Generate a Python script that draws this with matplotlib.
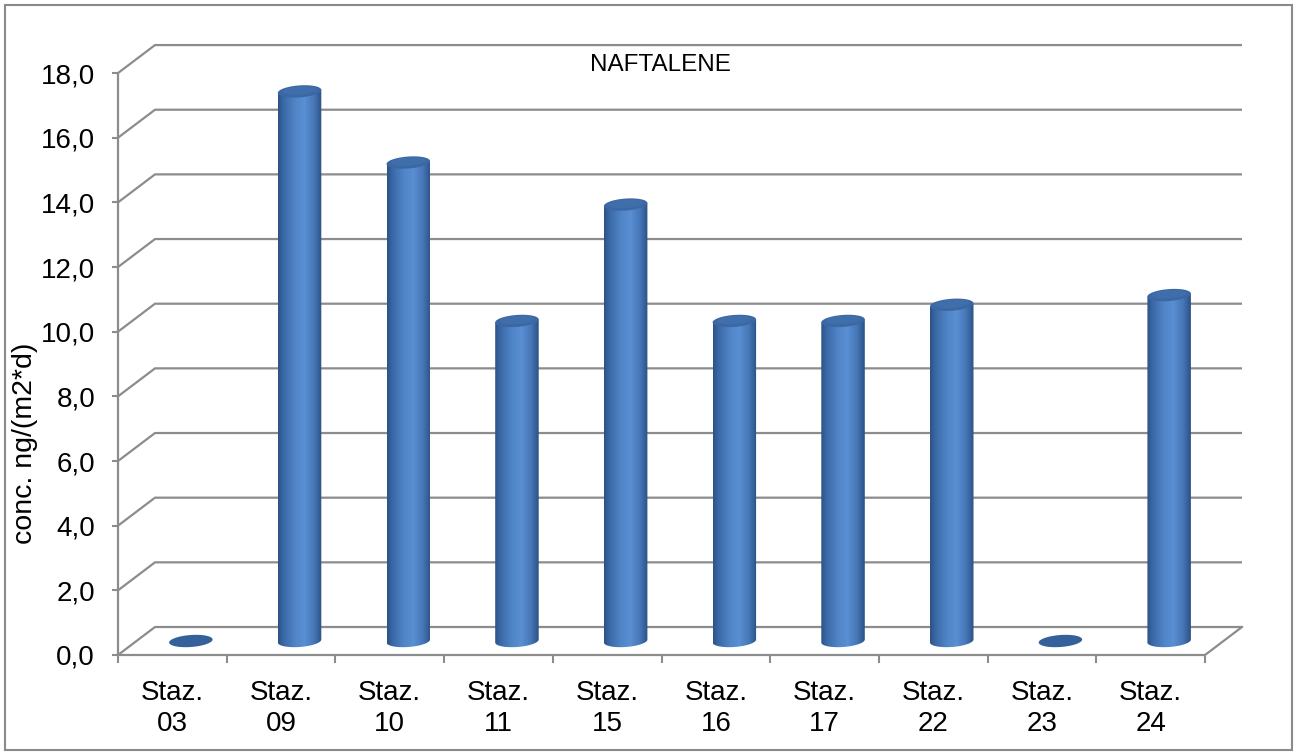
import numpy as np
import matplotlib
matplotlib.use("Agg")
import matplotlib.pyplot as plt
from matplotlib.path import Path
from matplotlib.patches import PathPatch, Rectangle
from matplotlib.colors import LinearSegmentedColormap

# ---- data -------------------------------------------------------------
stations = ["Staz.\n03", "Staz.\n09", "Staz.\n10", "Staz.\n11", "Staz.\n15",
            "Staz.\n16", "Staz.\n17", "Staz.\n22", "Staz.\n23", "Staz.\n24"]
values = [0.0, 17.0, 14.8, 9.9, 13.5, 9.9, 9.9, 10.4, 0.0, 10.7]
y_ticks = [0, 2, 4, 6, 8, 10, 12, 14, 16, 18]
y_tick_labels = ["0,0", "2,0", "4,0", "6,0", "8,0", "10,0", "12,0", "14,0", "16,0", "18,0"]
title = "NAFTALENE"
y_label = "conc. ng/(m2*d)"

plt.rcParams['font.family'] = ['Liberation Sans', 'DejaVu Sans']

W, H = 1295, 752
PX_X = 108.7          # pixels per category
PX_Y = 32.33          # pixels per value unit
DEPTH_X = 37 / PX_X   # depth of the 3-D box, in data units
DEPTH_Y = 28 / PX_Y
GRID = "#8c8c8c"

fig = plt.figure(figsize=(W / 100, H / 100), dpi=100)
fig.patch.set_facecolor("white")
ax = fig.add_axes([118 / W, 97 / H, 1132 / W, 615 / H])
ax.set_facecolor("none")
ax.set_autoscale_on(False)
n = len(stations)
ax.set_xlim(-0.5, -0.5 + 1132 / PX_X)
ax.set_ylim(0, 615 / PX_Y)

# back wall, side wall and floor
x0, x1 = -0.5, n - 0.5
for v in y_ticks:
    ax.plot([x0, x0 + DEPTH_X, x1 + DEPTH_X], [v, v + DEPTH_Y, v + DEPTH_Y],
            color=GRID, lw=1.6, zorder=1, solid_capstyle="butt")
ax.plot([x1, x1 + DEPTH_X], [0, DEPTH_Y], color=GRID, lw=1.6, zorder=1)

# cylinders
body_cmap = LinearSegmentedColormap.from_list(
    "cyl", [(0.0, "#2b5285"), (0.12, "#3a68a6"), (0.38, "#5084c6"),
            (0.6, "#5a8fd3"), (0.82, "#4677b7"), (1.0, "#2a5184")])
half_w = 0.2
ell_b = 6 / PX_Y
tilt = 1.5 / PX_Y
t = np.linspace(0, 2 * np.pi, 120)
for i, v in enumerate(values):
    cx = i + DEPTH_X / 2
    base = DEPTH_Y / 2
    top = v + DEPTH_Y / 2
    ex = half_w * np.cos(t)
    ey = ell_b * np.sin(t) + tilt * np.cos(t)
    if v <= 0:
        ax.fill(cx + ex, base + ey, color="#35619b", zorder=3, lw=0)
        continue
    # body outline: left side down, lower half of base ellipse, right side up
    tb = np.linspace(np.pi, 2 * np.pi, 60)
    bx = cx + half_w * np.cos(tb)
    by = base + ell_b * np.sin(tb) + tilt * np.cos(tb)
    verts = [(cx - half_w, top - tilt)] + list(zip(bx, by)) + [(cx + half_w, top + tilt), (cx - half_w, top - tilt)]
    codes = [Path.MOVETO] + [Path.LINETO] * (len(verts) - 2) + [Path.CLOSEPOLY]
    clip = PathPatch(Path(verts, codes), transform=ax.transData, facecolor="none", edgecolor="none")
    ax.add_patch(clip)
    im = ax.imshow(np.linspace(0, 1, 256).reshape(1, -1), cmap=body_cmap,
                   extent=[cx - half_w, cx + half_w, base - 2 * ell_b, top + 2 * ell_b],
                   aspect="auto", zorder=3, interpolation="bilinear")
    im.set_clip_path(clip)
    ax.fill(cx + ex, top + ey, color="#3b68a4", zorder=4, lw=0)
    ax.fill(cx + 0.8 * ex, top + 0.7 * ey + 0.15 * ell_b, color="#406eab", zorder=4, lw=0)

# axes lines and ticks
for s in ("top", "right"):
    ax.spines[s].set_visible(False)
for s in ("left", "bottom"):
    ax.spines[s].set_color(GRID)
    ax.spines[s].set_linewidth(1.6)
    ax.spines[s].set_zorder(5)
ax.spines["left"].set_bounds(0, 18)
ax.spines["bottom"].set_bounds(x0, x1)

ax.set_yticks(y_ticks, y_tick_labels)
ax.tick_params(axis="y", direction="out", length=4.5, width=1.5, color=GRID,
               pad=12, labelsize=20, labelcolor="black")
ax.set_xticks(np.arange(x0, x1 + 0.01, 1.0), [""] * (n + 1))
ax.set_xticks(np.arange(n), stations, minor=True, linespacing=1.25)
ax.tick_params(axis="x", which="major", direction="out", length=5.5, width=1.5, color=GRID)
ax.tick_params(axis="x", which="minor", length=0, pad=18, labelsize=20, labelcolor="black")

fig.text(660 / W, 1 - 65 / H, title, ha="center", va="center", fontsize=17.5)
fig.text(25 / W, 1 - 443 / H, y_label, ha="center", va="center", rotation=90, fontsize=20.5)

fig.patches.append(Rectangle((5 / W, 2 / H), 1287 / W, 745 / H, transform=fig.transFigure,
                             fill=False, edgecolor="#8a8a8a", lw=1.5))

fig.savefig("out.png", dpi=100)
